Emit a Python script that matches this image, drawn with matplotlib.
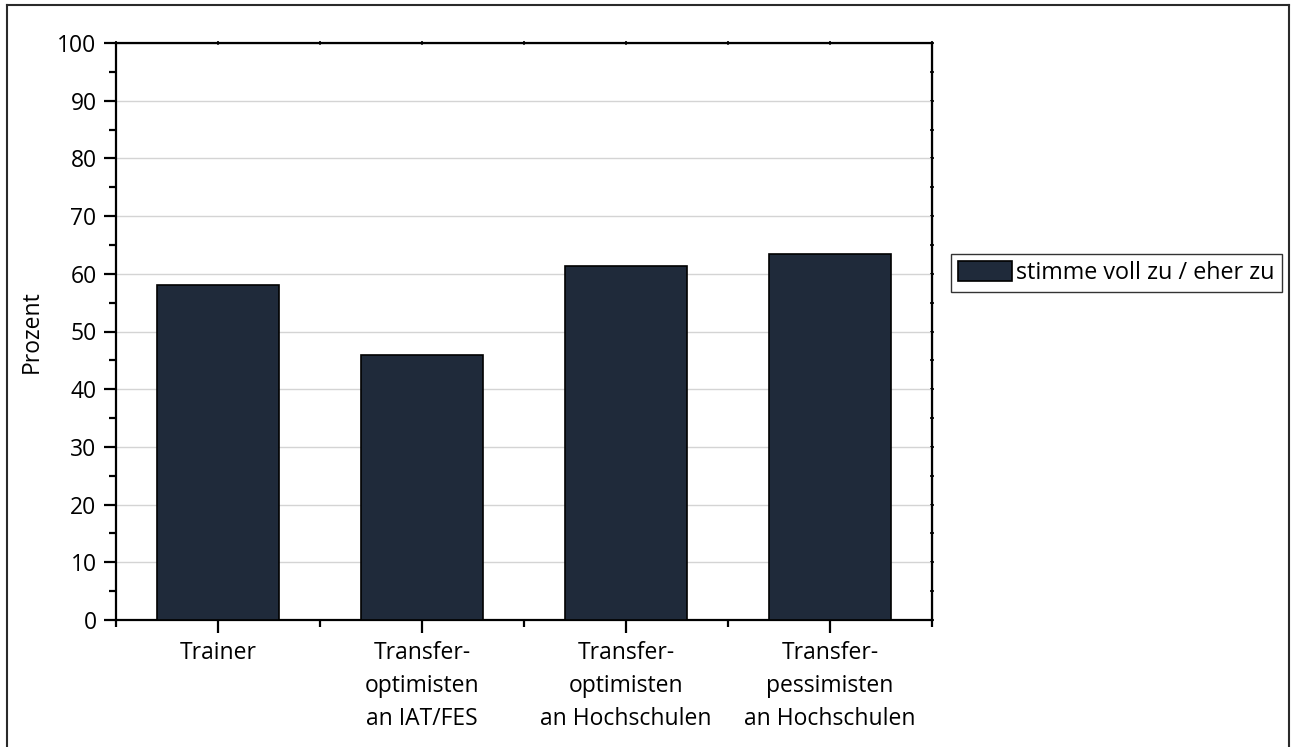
import matplotlib
matplotlib.use("Agg")
import matplotlib.pyplot as plt
from matplotlib.lines import Line2D
from matplotlib.ticker import MultipleLocator, FixedLocator

# Zustimmung nach Gruppe (Prozent)
categories = [
    "Trainer",
    "Transfer-\noptimisten\nan IAT/FES",
    "Transfer-\noptimisten\nan Hochschulen",
    "Transfer-\npessimisten\nan Hochschulen",
]
values = [58.1, 45.9, 61.4, 63.4]
series_label = "stimme voll zu / eher zu"

plt.rcParams["font.family"] = ["Open Sans", "DejaVu Sans"]
plt.rcParams["font.size"] = 16.5

fig = plt.figure(figsize=(12.92, 7.47), dpi=100)
ax = fig.add_axes([116 / 1292, 1 - 620 / 747, (932 - 116) / 1292, (620 - 43) / 747])

x = [i + 0.5 for i in range(len(categories))]
ax.bar(x, values, width=0.6, color="#1f2a3a", edgecolor="black",
       linewidth=1.2, label=series_label, zorder=3)

ax.set_xlim(0, len(categories))
ax.set_ylim(0, 100)
ax.yaxis.set_major_locator(MultipleLocator(10))
ax.yaxis.set_minor_locator(MultipleLocator(5))
ax.xaxis.set_major_locator(FixedLocator(x))
ax.xaxis.set_minor_locator(FixedLocator(range(len(categories) + 1)))
ax.set_xticklabels(categories, linespacing=1.5)

ax.grid(axis="y", color="#d4d4d4", linewidth=1.0, zorder=0)
ax.set_axisbelow(True)

for s in ax.spines.values():
    s.set_linewidth(1.6)

ax.tick_params(axis="both", which="major", direction="out", length=9,
               width=1.6, pad=5)
ax.tick_params(axis="both", which="minor", direction="out", length=5,
               width=1.6)
ax.tick_params(axis="x", which="major", pad=6)

# kleine Markierungen oben und rechts
top = ax.secondary_xaxis("top")
top.xaxis.set_major_locator(FixedLocator(x))
top.xaxis.set_minor_locator(FixedLocator(range(len(categories) + 1)))
top.tick_params(which="both", direction="inout", length=3, width=1.2,
                labeltop=False)
right = ax.secondary_yaxis("right")
right.yaxis.set_major_locator(MultipleLocator(10))
right.yaxis.set_minor_locator(MultipleLocator(5))
right.tick_params(which="both", direction="inout", length=3, width=1.2,
                  labelright=False)

ax.set_ylabel("Prozent", labelpad=10)

leg = fig.legend(loc="upper left", bbox_to_anchor=(951 / 1292, 1 - 254 / 747),
                 bbox_transform=fig.transFigure, borderaxespad=0, frameon=True,
                 fancybox=False, edgecolor="black", handlelength=2.3,
                 handleheight=0.9, handletextpad=0.2, borderpad=0.3,
                 fontsize=16.8)
leg.get_frame().set_linewidth(1.0)

# Rahmen um die gesamte Grafik
fx = [7 / 1292, 1289 / 1292]
fy = [1 - 5 / 747, -0.01]
for line in (
    Line2D([fx[0], fx[0]], [fy[1], fy[0]]),
    Line2D([fx[0], fx[1]], [fy[0], fy[0]]),
    Line2D([fx[1], fx[1]], [fy[1], fy[0]]),
):
    line.set_transform(fig.transFigure)
    line.set_color("#2a2a2a")
    line.set_linewidth(1.5)
    fig.add_artist(line)

fig.savefig("out.png", dpi=100)
